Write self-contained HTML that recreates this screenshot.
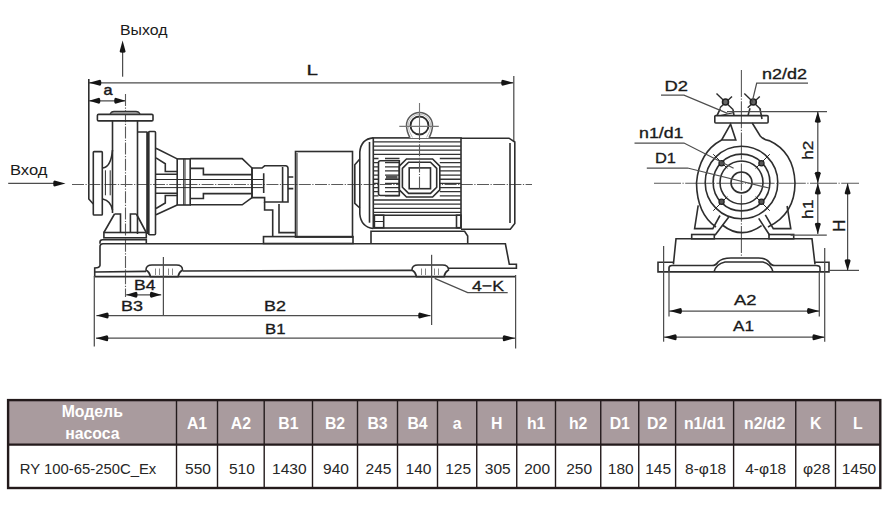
<!DOCTYPE html>
<html><head><meta charset="utf-8">
<style>
html,body{margin:0;padding:0;background:#fff;width:892px;height:529px;overflow:hidden}
svg{display:block;font-family:"Liberation Sans",sans-serif}
.s{fill:none;stroke:#2e2e2e;stroke-width:1.6}
.sw{fill:#fff;stroke:#2e2e2e;stroke-width:1.6}
.t{fill:none;stroke:#2a2a2a;stroke-width:1}
.tb{fill:none;stroke:#2a2a2a;stroke-width:1.4}
.cr{fill:none;stroke:#777;stroke-width:1.1}
.tl{fill:none;stroke:#888;stroke-width:1}
.fin{fill:none;stroke:#333;stroke-width:1.3}
.d{fill:none;stroke:#4d4d4d;stroke-width:1.25}
.c{fill:none;stroke:#5a5a5a;stroke-width:1.1;stroke-dasharray:12 1.5 1.2 1.5}
.f{fill:#151515;stroke:none}
.c2{fill:none;stroke:#5a5a5a;stroke-width:1.1;stroke-dasharray:27 1.5 1.2 1.5}
text{fill:#1a1a1a}
.th{fill:#fff;font-weight:bold;font-size:15.8px;text-anchor:middle}
.td{fill:#262626;font-size:15.5px;text-anchor:middle}
.g{stroke:#231a1b;stroke-width:1.4}
.g2{stroke:#231a1b;stroke-width:2.4}
</style></head><body>
<svg width="892" height="529" viewBox="0 0 892 529">
<text x="120.00" y="34.60" font-size="14.80" stroke="#1a1a1a" stroke-width="0" textLength="47.50" lengthAdjust="spacingAndGlyphs">Выход</text>
<line x1="122.60" y1="50.00" x2="122.60" y2="76.70" class="d"/>
<path d="M122.60,40.50 L125.60,51.50 A3.00,1.35 0.0 0 1 119.60,51.50 Z" class="f"/>
<text x="10.00" y="174.60" font-size="14.80" stroke="#1a1a1a" stroke-width="0" textLength="37.50" lengthAdjust="spacingAndGlyphs">Вход</text>
<line x1="8.20" y1="183.40" x2="55.00" y2="183.40" class="d"/>
<path d="M65.50,183.40 L54.50,186.40 A3.00,1.35 90.0 0 1 54.50,180.40 Z" class="f"/>
<line x1="89.00" y1="82.80" x2="513.50" y2="82.80" class="d"/>
<path d="M89.00,82.80 L100.00,79.80 A3.00,1.35 270.0 0 1 100.00,85.80 Z" class="f"/>
<path d="M513.50,82.80 L502.50,85.80 A3.00,1.35 90.0 0 1 502.50,79.80 Z" class="f"/>
<text x="306.50" y="74.90" font-size="15.22" stroke="#1a1a1a" stroke-width="0.32" textLength="11.50" lengthAdjust="spacingAndGlyphs">L</text>
<path d="M88.8,79 V199 L93.3,204" class="s"/>
<line x1="513.80" y1="76.00" x2="513.80" y2="141.00" class="d"/>
<line x1="89.00" y1="100.80" x2="125.50" y2="100.80" class="d"/>
<path d="M89.00,100.80 L99.00,97.80 A3.00,1.35 270.0 0 1 99.00,103.80 Z" class="f"/>
<path d="M125.50,100.80 L115.50,103.80 A3.00,1.35 90.0 0 1 115.50,97.80 Z" class="f"/>
<text x="103.50" y="94.80" font-size="14.91" stroke="#1a1a1a" stroke-width="0.5" textLength="9.00" lengthAdjust="spacingAndGlyphs">a</text>
<line x1="72.00" y1="184.50" x2="532.00" y2="184.50" class="c"/>
<line x1="125.50" y1="94.00" x2="125.50" y2="297.00" class="c"/>
<rect x="97.4" y="114.4" width="55.60" height="6.50" class="s" rx="1.2"/>
<path d="M110,114.4 Q111,111.4 114,111.4 H136 Q139,111.4 140.2,114.4 Z" fill="#999" stroke="#333" stroke-width="1.2"/>
<line x1="112.50" y1="120.90" x2="112.50" y2="213.00" class="s"/>
<line x1="137.50" y1="120.90" x2="137.50" y2="234.00" class="s"/>
<path d="M137.5,132 H147 M147,131.5 V234 M148.6,132 V234" class="s"/>
<rect x="148.6" y="131.5" width="6.90" height="103.20" class="s" rx="1"/>
<rect x="93.3" y="151.6" width="9.00" height="63.40" class="s" rx="0.8"/>
<path d="M112.5,150 Q111,167 102.7,168 M102.7,199 Q111,201 112.5,210" class="s"/>
<path d="M105.4,170.3 V195.3 M110.2,170.3 V195.3" class="t"/>
<path d="M114.5,214 H120.5 V232.5 M130.4,232.5 V214 H136.4 M114.5,214 L103.9,232.5 M136.4,214 L146,232" class="s"/>
<rect x="103.9" y="232.5" width="42.40" height="5.30" class="s"/>
<path d="M100,243.8 V242 Q100,239.7 102.5,239.7 H146.3 V243.8" class="s"/>
<path d="M156,148.3 L177.2,158.9 M156,214.8 L177.2,205" class="s"/>
<path d="M156,157.9 L165.3,163.8 V171.5 H177.2 M156,208.5 L165.3,203 V195.5 H177.2 M156,174.3 H177.2 M156,193.2 H177.2" class="s"/>
<line x1="156.00" y1="179.50" x2="263.70" y2="179.50" class="t"/>
<line x1="156.00" y1="187.60" x2="263.70" y2="187.60" class="t"/>
<rect x="177.2" y="158.9" width="13.00" height="46.10" class="s"/>
<path d="M183.7,158.9 V205 M185,158.9 V205" class="t"/>
<path d="M190.2,158.6 H242.2 L252,168 V197.6 L242.2,204.8 H190.2" class="s"/>
<path d="M190.5,168.4 H203.4 V174.6 H252 M190.5,198.5 H203.4 V193.6 H252" class="s"/>
<path d="M252,168 H262 L264.6,165.8 H285.5 Q288,165.8 288,168.5 V202 H264.6 V197.6 H252 Z M282.6,167 V202 M263.7,173.3 V193" class="s"/>
<path d="M288,177 H293.3 M288,188.6 H293.3" class="s"/>
<path d="M264.6,202 V210 H272.7 V236.8 M279,203.9 V232.6 H295.5" class="s"/>
<rect x="263.5" y="236.6" width="89.50" height="6.90" class="s"/>
<rect x="295.5" y="151.5" width="57.00" height="85.60" class="s"/>
<line x1="297.00" y1="153.00" x2="297.00" y2="236.50" class="t"/>
<path d="M373.3,137.9 Q361,139 359.8,152 V214 Q361,227 373.3,228.5" class="s"/>
<line x1="369.50" y1="142.00" x2="369.50" y2="222.70" class="s"/>
<path d="M359.8,159 L354.8,164.8 V203.4 L359.8,208" class="s"/>
<rect x="373.3" y="137.9" width="87.70" height="90.10" class="s"/>
<path d="M373.3,141.90 H461 M373.3,146.05 H461 M373.3,150.20 H461 M373.3,154.35 H461 M373.3,158.50 H378.5 M385,158.50 H399.5 M439.8,158.50 H461 M373.3,162.65 H378.5 M385,162.65 H399.5 M439.8,162.65 H461 M373.3,166.80 H378.5 M385,166.80 H399.5 M439.8,166.80 H461 M373.3,170.95 H378.5 M385,170.95 H399.5 M439.8,170.95 H461 M373.3,175.10 H378.5 M385,175.10 H399.5 M439.8,175.10 H461 M373.3,179.25 H378.5 M385,179.25 H399.5 M439.8,179.25 H461 M373.3,183.40 H378.5 M385,183.40 H399.5 M439.8,183.40 H461 M373.3,187.55 H378.5 M385,187.55 H399.5 M439.8,187.55 H461 M373.3,191.70 H378.5 M385,191.70 H399.5 M439.8,191.70 H461 M373.3,195.85 H378.5 M385,195.85 H399.5 M439.8,195.85 H461 M373.3,200.00 H461 M373.3,204.15 H461 M373.3,208.30 H461 M373.3,212.45 H461" class="fin"/>
<line x1="373.30" y1="215.20" x2="461.00" y2="215.20" class="s"/>
<path d="M406.5,159 H432.6 L439.8,166.2 V189.8 L432.6,197 H406.5 L399.3,189.8 V166.2 Z" class="sw"/>
<path d="M408.6,162.2 H430.5 L436.7,168.4 V187.2 L430.5,193.4 H408.6 L402.4,187.2 V168.4 Z" class="s"/>
<rect x="409.2" y="167.9" width="21.3" height="20.8" class="s" stroke-width="2"/>
<path d="M378.5,162.8 Q378.5,160.8 380.5,160.8 H399.3 V195.5 H380.5 Q378.5,195.5 378.5,193.5 Z" class="s"/>
<rect x="386" y="175.5" width="11.5" height="3.5" fill="#555"/>
<rect x="374.4" y="215.2" width="9.30" height="12.50" class="s"/>
<line x1="374.40" y1="221.50" x2="383.70" y2="221.50" class="t"/>
<rect x="456.5" y="215.2" width="4.50" height="12.50" class="s"/>
<path d="M371,243.8 V231.3 H464.6 L467.7,236 V243.8" class="s"/>
<path d="M410,137.9 Q406.5,131 406.5,125.5 A13,13 0 1 1 432.5,125.5 Q432.5,131 429,137.9" fill="#fff" stroke="#5a5a5a" stroke-width="1.5"/>
<path d="M412.5,137.5 Q408.2,131 408.2,125.5 A11.3,11.3 0 1 1 430.8,125.5 Q430.8,131 426.5,137.5" fill="none" stroke="#bbb" stroke-width="1"/>
<circle cx="419.5" cy="125.5" r="9" fill="#fff" stroke="#2e2e2e" stroke-width="1.9"/>
<line x1="399.30" y1="126.40" x2="438.80" y2="126.40" class="cr"/>
<line x1="419.50" y1="103.00" x2="419.50" y2="128.00" class="cr"/>
<line x1="419.50" y1="128.00" x2="419.50" y2="190.00" class="c"/>
<path d="M461,138.2 H509 L514.8,142 V223.5 L510.3,229.2 H461" class="s"/>
<line x1="510.00" y1="143.00" x2="510.00" y2="223.00" class="s"/>
<path d="M100,265.4 V246.5 Q100,243.8 103,243.8 H505.4 L509.3,264.2 H516.4 V268.2 H446.5 M100,265.4 Q99.5,268 94.7,268 V276.6" class="s"/>
<path d="M94.7,272 L146,271.4 M182.5,271 L412,270.4" class="s"/>
<line x1="94.70" y1="276.60" x2="516.00" y2="276.60" class="s"/>
<path d="M146,270 Q146,265 152,265 H176.5 Q182.5,265 182.5,270 Q179,272 178,276.6 H150.5 Q149.5,272 146,270 Z" class="sw"/>
<path d="M155.5,268.5 V275 M159.5,268.5 V275 M168.5,268.5 V275 M172.5,268.5 V275" class="tl"/>
<path d="M412,270 Q412,265 418,265 H442.5 Q448.5,265 448.5,270 Q445,272 444,276.6 H416.5 Q415.5,272 412,270 Z" class="sw"/>
<path d="M421.5,268.5 V275 M425.5,268.5 V275 M434.5,268.5 V275 M438.5,268.5 V275" class="tl"/>
<line x1="163.40" y1="257.00" x2="163.40" y2="315.00" class="d"/>
<line x1="431.60" y1="254.80" x2="431.60" y2="325.00" class="d"/>
<line x1="94.30" y1="276.00" x2="94.30" y2="346.50" class="d"/>
<line x1="515.60" y1="275.00" x2="515.60" y2="348.50" class="d"/>
<line x1="126.20" y1="294.80" x2="161.20" y2="294.80" class="d"/>
<path d="M126.20,294.80 L136.20,291.80 A3.00,1.35 270.0 0 1 136.20,297.80 Z" class="f"/>
<path d="M161.20,294.80 L151.20,297.80 A3.00,1.35 90.0 0 1 151.20,291.80 Z" class="f"/>
<text x="134.00" y="289.90" font-size="14.53" stroke="#1a1a1a" stroke-width="0.32" textLength="21.50" lengthAdjust="spacingAndGlyphs">B4</text>
<text x="121.00" y="310.90" font-size="14.80" stroke="#1a1a1a" stroke-width="0.32" textLength="22.00" lengthAdjust="spacingAndGlyphs">B3</text>
<line x1="96.40" y1="315.60" x2="430.50" y2="315.60" class="d"/>
<path d="M96.40,315.60 L107.40,312.60 A3.00,1.35 270.0 0 1 107.40,318.60 Z" class="f"/>
<path d="M430.50,315.60 L419.50,318.60 A3.00,1.35 90.0 0 1 419.50,312.60 Z" class="f"/>
<text x="264.00" y="310.80" font-size="15.22" stroke="#1a1a1a" stroke-width="0.32" textLength="22.00" lengthAdjust="spacingAndGlyphs">B2</text>
<line x1="96.00" y1="338.20" x2="515.00" y2="338.20" class="d"/>
<path d="M96.00,338.20 L107.00,335.20 A3.00,1.35 270.0 0 1 107.00,341.20 Z" class="f"/>
<path d="M515.00,338.20 L504.00,341.20 A3.00,1.35 90.0 0 1 504.00,335.20 Z" class="f"/>
<text x="265.00" y="333.70" font-size="14.94" stroke="#1a1a1a" stroke-width="0.32" textLength="20.50" lengthAdjust="spacingAndGlyphs">B1</text>
<path d="M434.7,278.4 L467.7,292.5 H507.7" class="d"/>
<text x="472.00" y="291.00" font-size="15.36" stroke="#1a1a1a" stroke-width="0.32" textLength="32.00" lengthAdjust="spacingAndGlyphs">4−K</text>
<line x1="741.40" y1="70.00" x2="741.40" y2="256.00" class="c2"/>
<line x1="654.00" y1="183.20" x2="859.00" y2="183.20" class="c2"/>
<rect x="714.8" y="115.6" width="53.30" height="7.40" class="s" rx="1"/>
<line x1="716.50" y1="93.50" x2="733.00" y2="109.40" class="tb"/>
<line x1="732.00" y1="96.50" x2="719.90" y2="107.70" class="tb"/>
<circle cx="725.5" cy="102" r="3" fill="#666" stroke="#222" stroke-width="1.6"/>
<line x1="744.30" y1="93.50" x2="760.80" y2="109.40" class="tb"/>
<line x1="759.80" y1="96.50" x2="747.70" y2="107.70" class="tb"/>
<circle cx="753.3" cy="102" r="3" fill="#666" stroke="#222" stroke-width="1.6"/>
<path d="M720.4,108.3 L717,115.6 M733,109.4 L734,115.6 M750,108.3 L748,115.6 M760,108.8 L762,119" class="s"/>
<path d="M720,115.6 L733,112.8" class="t"/>
<text x="664.50" y="90.70" font-size="14.66" stroke="#1a1a1a" stroke-width="0.32" textLength="23.50" lengthAdjust="spacingAndGlyphs">D2</text>
<path d="M661,95.2 H684 L727.5,113.4" class="d"/>
<text x="762.00" y="79.00" font-size="13.97" stroke="#1a1a1a" stroke-width="0.32" textLength="45.00" lengthAdjust="spacingAndGlyphs">n2/d2</text>
<path d="M808,83 H756.7 L752,102.6" class="d"/>
<line x1="727.00" y1="111.70" x2="827.00" y2="111.70" class="d"/>
<path d="M730.6,124.2 L721.6,140 H735.8 Z" class="s"/>
<path d="M752.2,123 L760.2,136 Q764,140 769,140.6 Q794,152 795,183 Q795,214 768,227 M721.6,140 Q699,152 696.5,183 Q697,214 716,227" class="s"/>
<circle cx="741.5" cy="182.5" r="10.5" class="s"/>
<circle cx="741.5" cy="182.5" r="21.5" class="s"/>
<circle cx="741.5" cy="182.5" r="28.4" class="s"/>
<circle cx="741.5" cy="182.5" r="36.3" class="s"/>
<line x1="755.64" y1="196.64" x2="769.78" y2="210.78" class="t"/>
<circle cx="761.44" cy="201.73" r="2.6" fill="#555" stroke="#222" stroke-width="1.2"/>
<line x1="727.36" y1="196.64" x2="713.22" y2="210.78" class="t"/>
<circle cx="721.56" cy="201.73" r="2.6" fill="#555" stroke="#222" stroke-width="1.2"/>
<line x1="727.36" y1="168.36" x2="713.22" y2="154.22" class="t"/>
<circle cx="721.56" cy="163.27" r="2.6" fill="#555" stroke="#222" stroke-width="1.2"/>
<line x1="755.64" y1="168.36" x2="769.78" y2="154.22" class="t"/>
<circle cx="761.44" cy="163.27" r="2.6" fill="#555" stroke="#222" stroke-width="1.2"/>
<path d="M722.3,225 Q741.5,240 761.6,225.7" class="s"/>
<path d="M698.2,205.3 L694.6,228.6 H712.8 L720,215.5 M715,235.2 L728.8,217" class="s"/>
<path d="M787.1,206 L790.8,228.6 H773.3 L765.3,214.8 M769.7,235.2 L758.7,218.4" class="s"/>
<rect x="691.7" y="234.5" width="22.60" height="4.30" class="s"/>
<rect x="769" y="234.5" width="24.70" height="4.30" class="s"/>
<path d="M673.4,264.4 L676,238.8 H812 L815,264.4" class="s"/>
<path d="M673.4,262.3 H658 V271.9 H829 V262.3 H815" class="s"/>
<path d="M669,271.9 V268 Q669,265.5 672,265.5 H712 Q716,265.5 718,262 Q722,258 731,258 H758.6 Q766,258 769,262 Q771,265.5 775,265.5 H816 Q820,265.5 820,268 V271.9" class="s"/>
<path d="M714,271.9 Q716,264 725,262 H763 Q771,264 773,271.9" class="s"/>
<line x1="790.60" y1="235.00" x2="826.80" y2="235.00" class="d"/>
<line x1="829.00" y1="270.40" x2="859.00" y2="270.40" class="d"/>
<line x1="817.80" y1="111.50" x2="817.80" y2="234.00" class="d"/>
<path d="M817.80,111.50 L820.80,121.50 A3.00,1.35 0.0 0 1 814.80,121.50 Z" class="f"/>
<path d="M817.80,183.20 L814.80,173.20 A3.00,1.35 180.0 0 1 820.80,173.20 Z" class="f"/>
<path d="M817.80,183.20 L820.80,193.20 A3.00,1.35 0.0 0 1 814.80,193.20 Z" class="f"/>
<path d="M817.80,234.00 L814.80,224.00 A3.00,1.35 180.0 0 1 820.80,224.00 Z" class="f"/>
<line x1="847.60" y1="183.20" x2="847.60" y2="270.70" class="d"/>
<path d="M847.60,183.20 L850.60,193.20 A3.00,1.35 0.0 0 1 844.60,193.20 Z" class="f"/>
<path d="M847.60,270.70 L844.60,260.70 A3.00,1.35 180.0 0 1 850.60,260.70 Z" class="f"/>
<text x="0" y="0" font-size="14.7" stroke="#1a1a1a" stroke-width="0.32" transform="translate(812.5,159.7) rotate(-90)" textLength="19" lengthAdjust="spacingAndGlyphs">h2</text>
<text x="0" y="0" font-size="14.7" stroke="#1a1a1a" stroke-width="0.32" transform="translate(813,219) rotate(-90)" textLength="19.5" lengthAdjust="spacingAndGlyphs">h1</text>
<text x="0" y="0" font-size="15.6" stroke="#1a1a1a" stroke-width="0.32" transform="translate(845,232) rotate(-90)" textLength="12.5" lengthAdjust="spacingAndGlyphs">H</text>
<line x1="663.60" y1="246.00" x2="663.60" y2="341.70" class="d"/>
<line x1="824.70" y1="248.00" x2="824.70" y2="341.70" class="d"/>
<line x1="669.00" y1="267.60" x2="669.00" y2="316.60" class="d"/>
<line x1="819.30" y1="272.00" x2="819.30" y2="316.60" class="d"/>
<line x1="669.00" y1="311.00" x2="819.30" y2="311.00" class="d"/>
<path d="M669.60,311.00 L680.60,308.00 A3.00,1.35 270.0 0 1 680.60,314.00 Z" class="f"/>
<path d="M819.30,311.00 L808.30,314.00 A3.00,1.35 90.0 0 1 808.30,308.00 Z" class="f"/>
<text x="734.00" y="304.80" font-size="15.08" stroke="#1a1a1a" stroke-width="0.32" textLength="22.50" lengthAdjust="spacingAndGlyphs">A2</text>
<line x1="663.60" y1="337.20" x2="824.70" y2="337.20" class="d"/>
<path d="M664.40,337.20 L675.40,334.20 A3.00,1.35 270.0 0 1 675.40,340.20 Z" class="f"/>
<path d="M824.70,337.20 L813.70,340.20 A3.00,1.35 90.0 0 1 813.70,334.20 Z" class="f"/>
<text x="733.00" y="330.80" font-size="15.08" stroke="#1a1a1a" stroke-width="0.32" textLength="21.00" lengthAdjust="spacingAndGlyphs">A1</text>
<text x="655.00" y="163.00" font-size="14.80" stroke="#1a1a1a" stroke-width="0.32" textLength="21.00" lengthAdjust="spacingAndGlyphs">D1</text>
<path d="M646.8,168 H687.6 L769,188" class="d"/>
<text x="639.00" y="138.00" font-size="14.94" stroke="#1a1a1a" stroke-width="0.32" textLength="44.50" lengthAdjust="spacingAndGlyphs">n1/d1</text>
<path d="M634.5,143 H684 L733.6,168.2" class="d"/>
<rect x="8.1" y="400.1" width="872.1999999999999" height="44.5" fill="#a99b9e"/>
<text x="92.3" y="416.8" class="th">Модель</text>
<text x="92.3" y="438.8" class="th">насоса</text>
<text x="19.8" y="473.8" class="td" style="text-anchor:start" textLength="136.5" lengthAdjust="spacingAndGlyphs">RY 100-65-250C_Ex</text>
<text x="197.0" y="428.8" class="th">A1</text>
<text x="198.0" y="473.8" class="td">550</text>
<text x="240.85" y="428.8" class="th">A2</text>
<text x="241.85" y="473.8" class="td">510</text>
<text x="288.35" y="428.8" class="th">B1</text>
<text x="289.35" y="473.8" class="td">1430</text>
<text x="335.0" y="428.8" class="th">B2</text>
<text x="336.0" y="473.8" class="td">940</text>
<text x="377.5" y="428.8" class="th">B3</text>
<text x="378.5" y="473.8" class="td">245</text>
<text x="417.5" y="428.8" class="th">B4</text>
<text x="418.5" y="473.8" class="td">140</text>
<text x="457.125" y="428.8" class="th">a</text>
<text x="458.125" y="473.8" class="td">125</text>
<text x="496.75" y="428.8" class="th">H</text>
<text x="497.75" y="473.8" class="td">305</text>
<text x="536.125" y="428.8" class="th">h1</text>
<text x="537.125" y="473.8" class="td">200</text>
<text x="578.125" y="428.8" class="th">h2</text>
<text x="579.125" y="473.8" class="td">250</text>
<text x="619.75" y="428.8" class="th">D1</text>
<text x="620.75" y="473.8" class="td">180</text>
<text x="657.175" y="428.8" class="th">D2</text>
<text x="658.175" y="473.8" class="td">145</text>
<text x="704.6" y="428.8" class="th">n1/d1</text>
<text x="705.6" y="473.8" class="td">8-φ18</text>
<text x="764.675" y="428.8" class="th">n2/d2</text>
<text x="765.675" y="473.8" class="td">4-φ18</text>
<text x="815.625" y="428.8" class="th">K</text>
<text x="816.625" y="473.8" class="td">φ28</text>
<text x="857.9" y="428.8" class="th">L</text>
<text x="858.9" y="473.8" class="td">1450</text>
<line x1="176.5" y1="400.1" x2="176.5" y2="488.0" class="g"/>
<line x1="217.5" y1="400.1" x2="217.5" y2="488.0" class="g"/>
<line x1="264.2" y1="400.1" x2="264.2" y2="488.0" class="g"/>
<line x1="312.5" y1="400.1" x2="312.5" y2="488.0" class="g"/>
<line x1="357.5" y1="400.1" x2="357.5" y2="488.0" class="g"/>
<line x1="397.5" y1="400.1" x2="397.5" y2="488.0" class="g"/>
<line x1="437.5" y1="400.1" x2="437.5" y2="488.0" class="g"/>
<line x1="476.75" y1="400.1" x2="476.75" y2="488.0" class="g"/>
<line x1="516.75" y1="400.1" x2="516.75" y2="488.0" class="g"/>
<line x1="555.5" y1="400.1" x2="555.5" y2="488.0" class="g"/>
<line x1="600.75" y1="400.1" x2="600.75" y2="488.0" class="g"/>
<line x1="638.75" y1="400.1" x2="638.75" y2="488.0" class="g"/>
<line x1="675.6" y1="400.1" x2="675.6" y2="488.0" class="g"/>
<line x1="733.6" y1="400.1" x2="733.6" y2="488.0" class="g"/>
<line x1="795.75" y1="400.1" x2="795.75" y2="488.0" class="g"/>
<line x1="835.5" y1="400.1" x2="835.5" y2="488.0" class="g"/>
<line x1="8.1" y1="444.6" x2="880.3" y2="444.6" class="g2"/>
<rect x="8.1" y="400.1" width="872.1999999999999" height="87.89999999999998" class="g2" fill="none"/>
</svg>
</body></html>
